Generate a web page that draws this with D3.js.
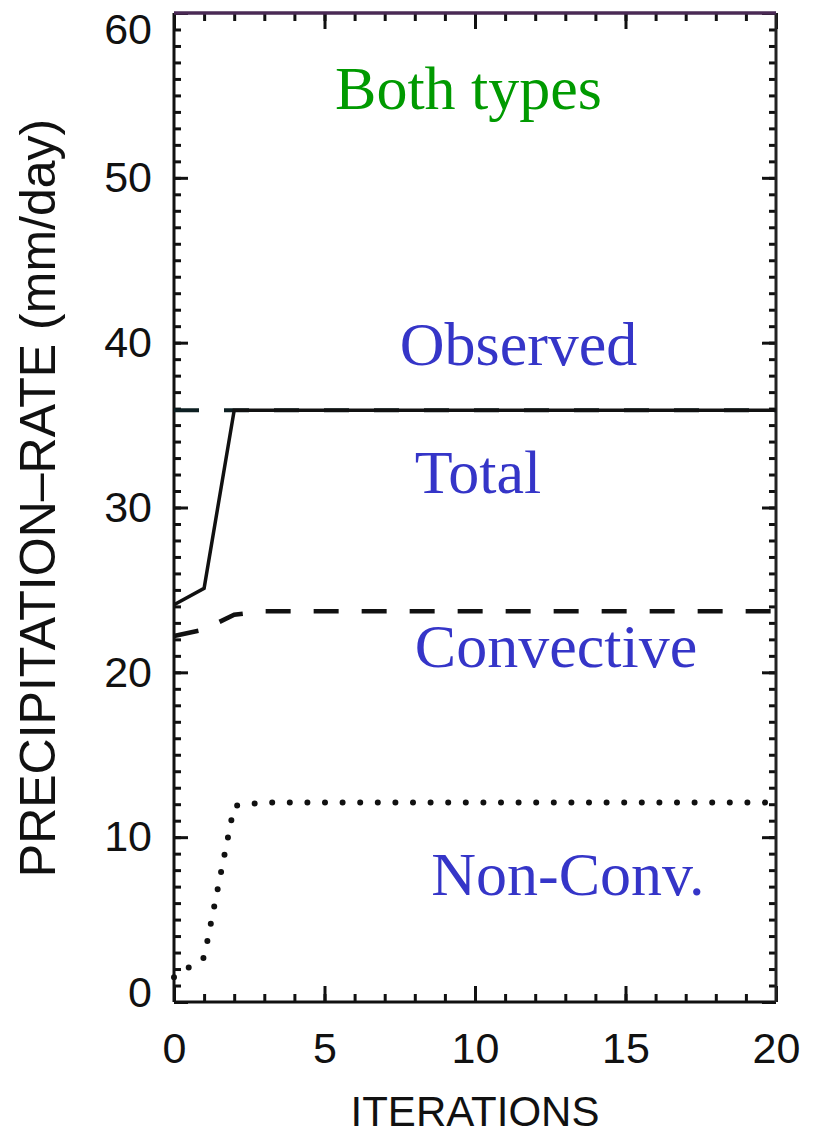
<!DOCTYPE html>
<html>
<head>
<meta charset="utf-8">
<script src="https://cdn.jsdelivr.net/npm/d3@7"></script>
<style>
  body { margin: 0; background: #fff; }
  svg { display: block; }
</style>
</head>
<body>
<script>
var width = 824,
    height = 1136;
var margin = {top: 13, right: 48, bottom: 134, left: 174};

// iterations 0..20
var iterations = [0, 1, 2, 3, 4, 5, 6, 7, 8, 9, 10, 11, 12, 13, 14, 15, 16, 17, 18, 19, 20];
var observed   = [35.9, 35.9, 35.9, 35.9, 35.9, 35.9, 35.9, 35.9, 35.9, 35.9, 35.9, 35.9, 35.9, 35.9, 35.9, 35.9, 35.9, 35.9, 35.9, 35.9, 35.9];
var total      = [24.1, 25.1, 35.9, 35.9, 35.9, 35.9, 35.9, 35.9, 35.9, 35.9, 35.9, 35.9, 35.9, 35.9, 35.9, 35.9, 35.9, 35.9, 35.9, 35.9, 35.9];
var convective = [22.2, 22.6, 23.5, 23.7, 23.7, 23.7, 23.7, 23.7, 23.7, 23.7, 23.7, 23.7, 23.7, 23.7, 23.7, 23.7, 23.7, 23.7, 23.7, 23.7, 23.7];
var nonConv    = [1.5, 2.7, 11.9, 12.1, 12.1, 12.1, 12.1, 12.1, 12.1, 12.1, 12.1, 12.1, 12.1, 12.1, 12.1, 12.1, 12.1, 12.1, 12.1, 12.1, 12.1];

var xTicks = [0, 5, 10, 15, 20];
var yTicks = [0, 10, 20, 30, 40, 50, 60];

var labelTexts = ["Both types", "Observed", "Total", "Convective", "Non-Conv."];
var labelX     = [5.35, 7.5, 8.0, 8.0, 8.55];
var labelY     = [54.2, 38.65, 30.9, 20.3, 6.5];

window.onload = function() {
    var svg = d3.select("body")
        .append("svg")
        .attr("width", width)
        .attr("height", height);

    var w = width - margin.left - margin.right,
        h = height - margin.top - margin.bottom;

    var x = d3.scaleLinear().domain([0, 20]).range([0, w]);
    var y = d3.scaleLinear().domain([0, 60]).range([h, 0]);

    var g = svg.append("g")
        .attr("transform", "translate(" + margin.left + "," + margin.top + ")");

    // minor ticks (inward)
    var minor = g.append("g").attr("class", "minor");
    minor.append("g").call(d3.axisLeft(y).tickValues(d3.range(0, 61, 1)).tickSize(-7).tickFormat(""));
    minor.append("g").attr("transform", "translate(" + w + ",0)")
        .call(d3.axisRight(y).tickValues(d3.range(0, 61, 1)).tickSize(-7).tickFormat(""));
    minor.append("g").attr("transform", "translate(0," + h + ")")
        .call(d3.axisBottom(x).tickValues(d3.range(0, 21, 1)).tickSize(-8).tickFormat(""));
    minor.append("g")
        .call(d3.axisTop(x).tickValues(d3.range(0, 21, 1)).tickSize(-8).tickFormat(""));

    // major ticks with labels
    var yAxis = g.append("g")
        .call(d3.axisLeft(y).tickValues(yTicks).tickSize(-14).tickPadding(22).tickFormat(d3.format("d")));
    var xAxis = g.append("g").attr("transform", "translate(0," + h + ")")
        .call(d3.axisBottom(x).tickValues(xTicks).tickSize(-16).tickPadding(44).tickFormat(d3.format("d")));
    g.append("g").attr("transform", "translate(" + w + ",0)")
        .call(d3.axisRight(y).tickValues(yTicks).tickSize(-14).tickFormat(""));
    g.append("g")
        .call(d3.axisTop(x).tickValues(xTicks).tickSize(-16).tickFormat(""));

    g.selectAll(".domain").remove();
    g.selectAll(".tick line").attr("stroke", "#111").attr("stroke-width", 3);
    g.selectAll(".tick text")
        .attr("fill", "#111")
        .style("font-family", "'Liberation Sans', Arial, sans-serif")
        .style("font-size", "43px");
    xAxis.selectAll(".tick text").attr("dy", "0.4em");
    // end labels sit a little inside the frame, as in the original
    yAxis.selectAll(".tick text")
        .attr("dy", function(d) { return d === 60 ? "0.7em" : (d === 0 ? "0.1em" : "0.32em"); });

    // frame
    g.append("line").attr("x1", 0).attr("x2", 0).attr("y1", 0).attr("y2", h)
        .attr("stroke", "#111").attr("stroke-width", 3);
    g.append("line").attr("x1", 0).attr("x2", w).attr("y1", h).attr("y2", h)
        .attr("stroke", "#111").attr("stroke-width", 3);
    g.append("line").attr("x1", w).attr("x2", w).attr("y1", 0).attr("y2", h)
        .attr("stroke", "#222").attr("stroke-width", 3);
    g.append("line").attr("x1", 0).attr("x2", w).attr("y1", 0).attr("y2", 0)
        .attr("stroke", "#4a2a55").attr("stroke-width", 3.5);

    // lines
    var line = function(vals) {
        return d3.line()
            .x(function(d, i) { return x(iterations[i]); })
            .y(function(d) { return y(d); })(vals);
    };

    g.append("path").attr("d", line(observed))
        .attr("fill", "none").attr("stroke", "#0d1f22").attr("stroke-width", 4)
        .attr("stroke-dasharray", "25,25");
    g.append("path").attr("d", line(total))
        .attr("fill", "none").attr("stroke", "#111").attr("stroke-width", 3.5);
    g.append("path").attr("d", line(convective))
        .attr("fill", "none").attr("stroke", "#111").attr("stroke-width", 4.5)
        .attr("stroke-dasharray", "25,23");
    g.append("path").attr("d", line(nonConv))
        .attr("fill", "none").attr("stroke", "#111").attr("stroke-width", 6)
        .attr("stroke-linecap", "round")
        .attr("stroke-dasharray", "0,17.6");

    // annotations
    g.selectAll(".label")
        .data(labelTexts)
        .enter()
        .append("text")
        .attr("class", "label")
        .attr("x", function(d, i) { return x(labelX[i]); })
        .attr("y", function(d, i) { return y(labelY[i]); })
        .attr("fill", function(d, i) { return i === 0 ? "#009a00" : "#3535c8"; })
        .style("font-family", "'Liberation Serif', 'Times New Roman', serif")
        .style("font-size", "62px")
        .text(function(d) { return d; });

    // axis titles
    svg.append("text")
        .attr("x", margin.left + w / 2)
        .attr("y", 1126)
        .attr("text-anchor", "middle")
        .attr("fill", "#111")
        .style("font-family", "'Liberation Sans', Arial, sans-serif")
        .style("font-size", "42px")
        .text("ITERATIONS");

    svg.append("text")
        .attr("transform", "translate(55," + (margin.top + 485) + ") rotate(-90)")
        .attr("text-anchor", "middle")
        .attr("fill", "#111")
        .style("font-family", "'Liberation Sans', Arial, sans-serif")
        .style("font-size", "50px")
        .text("PRECIPITATION\u2013RATE (mm/day)");
};
</script>
</body>
</html>
